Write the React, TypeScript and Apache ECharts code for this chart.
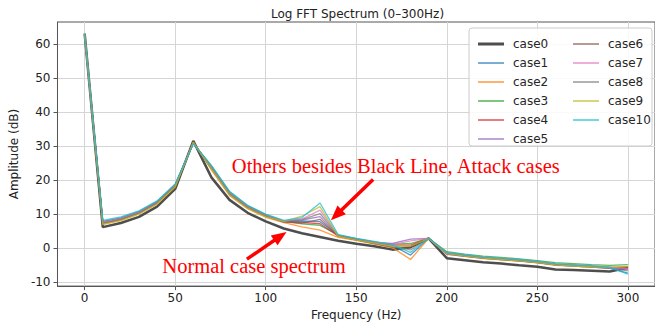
import React, { useEffect, useRef } from "react";
import * as echarts from "echarts";

const freqs = [0, 10, 20, 30, 40, 50, 60, 70, 80, 90, 100, 110, 120, 130, 140, 150, 160, 170, 180, 190, 200, 210, 220, 230, 240, 250, 260, 270, 280, 290, 300];

const caseNames = ["case0", "case1", "case2", "case3", "case4", "case5", "case6", "case7", "case8", "case9", "case10"];

const case0 = [63.0, 6.2, 7.4, 9.2, 12.2, 17.4, 31.5, 20.8, 14.2, 10.4, 7.9, 5.8, 4.4, 3.3, 2.2, 1.3, 0.6, -0.4, 0.3, 2.9, -2.9, -3.5, -4.1, -4.5, -5.0, -5.4, -6.2, -6.4, -6.6, -6.8, -5.7];
const case1 = [62.8, 7.9, 8.9, 10.8, 13.7, 18.7, 30.9, 23.9, 16.3, 12.3, 9.7, 7.9, 8.0, 7.8, 3.8, 2.7, 1.8, 0.8, -2.0, 2.9, -1.5, -2.2, -2.8, -3.2, -3.6, -4.1, -4.8, -5.1, -5.4, -5.8, -7.3];
const case2 = [62.7, 7.0, 8.2, 10.1, 13.0, 18.1, 31.2, 23.0, 15.5, 11.6, 9.1, 7.5, 6.3, 5.3, 3.2, 2.3, 1.2, 0.2, -3.3, 2.9, -1.7, -2.4, -3.0, -3.4, -3.8, -4.3, -5.0, -5.2, -5.5, -5.8, -5.4];
const case3 = [62.8, 7.6, 8.7, 10.6, 13.6, 18.6, 30.8, 24.2, 16.6, 12.5, 9.9, 8.0, 7.2, 6.7, 3.9, 2.8, 1.9, 1.2, 1.4, 2.9, -1.0, -1.7, -2.3, -2.7, -3.1, -3.6, -4.2, -4.5, -4.8, -5.0, -4.8];
const case4 = [62.8, 7.6, 8.6, 10.5, 13.4, 18.4, 30.9, 23.6, 16.0, 12.0, 9.5, 7.8, 7.6, 7.2, 3.6, 2.5, 1.6, 0.9, 0.9, 2.9, -1.4, -2.1, -2.7, -3.1, -3.5, -4.0, -4.7, -5.0, -5.3, -5.6, -5.8];
const case5 = [62.8, 7.5, 8.6, 10.5, 13.5, 18.5, 30.8, 23.7, 16.1, 12.1, 9.6, 8.0, 8.3, 9.3, 3.7, 2.6, 1.7, 1.4, 2.7, 2.9, -1.8, -2.4, -2.9, -3.3, -3.7, -4.2, -4.9, -5.2, -5.5, -5.8, -6.2];
const case6 = [62.8, 7.3, 8.4, 10.3, 13.2, 18.3, 31.0, 23.4, 15.8, 11.9, 9.4, 7.7, 7.4, 8.5, 3.6, 2.5, 1.4, 0.3, 0.4, 2.9, -1.5, -2.2, -2.8, -3.2, -3.6, -4.1, -4.8, -5.1, -5.4, -5.6, -5.5];
const case7 = [62.8, 7.7, 8.7, 10.6, 13.5, 18.5, 30.8, 23.8, 16.2, 12.2, 9.7, 8.0, 8.6, 11.2, 3.8, 2.7, 1.8, 1.1, 2.2, 2.9, -1.3, -2.0, -2.6, -3.0, -3.4, -3.9, -4.6, -4.9, -5.2, -5.5, -6.0];
const case8 = [62.8, 7.4, 8.5, 10.4, 13.4, 18.4, 30.9, 23.6, 16.0, 12.0, 9.5, 7.8, 8.4, 10.2, 3.7, 2.6, 1.6, 0.7, -0.5, 2.9, -1.6, -2.3, -2.9, -3.3, -3.7, -4.2, -4.9, -5.2, -5.5, -5.9, -6.6];
const case9 = [62.7, 7.0, 8.1, 10.0, 13.0, 18.0, 31.1, 23.2, 15.6, 11.7, 9.2, 7.9, 9.4, 12.2, 3.5, 2.4, 1.5, 0.6, 0.6, 2.9, -1.6, -2.3, -2.9, -3.3, -3.7, -4.2, -4.9, -5.2, -5.5, -5.6, -5.3];
const case10 = [62.9, 8.2, 9.2, 11.0, 13.9, 18.9, 30.7, 24.3, 16.7, 12.6, 10.0, 8.2, 9.0, 13.3, 4.0, 2.9, 2.0, 1.0, -1.2, 2.9, -1.2, -1.9, -2.5, -2.9, -3.3, -3.8, -4.5, -4.8, -5.1, -5.6, -7.6];

const allCases = [case0, case1, case2, case3, case4, case5, case6, case7, case8, case9, case10];

const xTicks = [0, 50, 100, 150, 200, 250, 300];
const yTicks = [-10, 0, 10, 20, 30, 40, 50, 60];

const colors = ["#444444", "#1f77b4", "#ff7f0e", "#2ca02c", "#d62728", "#9467bd", "#8c564b", "#e377c2", "#7f7f7f", "#bcbd22", "#17becf"];

const titleText = "Log FFT Spectrum (0\u2013300Hz)";
const attackText = "Others besides Black Line, Attack cases";
const normalText = "Normal case spectrum";
// annotation anchors in data coordinates [Hz, dB]
const attackTextAt = [81.3, 24.1];
const normalTextAt = [42.9, -5.1];
const attackArrow = [[159.3, 20.2], [136.0, 8.2]];
const normalArrow = [[89.6, -3.2], [111.5, 4.8]];

const FONT = "DejaVu Sans";

export default function App() {
  const ref = useRef<HTMLDivElement>(null);
  useEffect(() => {
    document.body.style.margin = "0";
    const chart = echarts.init(ref.current!, null, { renderer: "svg" });
    const series: any[] = caseNames.map((name, i) => ({
      name,
      type: "line",
      data: freqs.map((f, j) => [f, allCases[i][j]]),
      symbol: "none",
      z: 2,
      lineStyle: {
        color: colors[i],
        width: i === 0 ? 2.5 : 1.3,
        opacity: i === 0 ? 0.95 : 0.75,
      },
      itemStyle: { color: colors[i] },
    }));
    const legendCommon = {
      orient: "vertical" as const,
      itemWidth: 26,
      icon: "rect",
      itemGap: 5,
      selectedMode: false,
      z: 20,
      textStyle: { fontFamily: FONT, fontSize: 12, color: "#262626", lineHeight: 14, padding: [0, 0, 0, 4] },
    };
    const legData = (names: string[]) =>
      names.map((n) => {
        const i = caseNames.indexOf(n);
        return { name: n, itemStyle: { color: colors[i], opacity: i === 0 ? 0.95 : 0.6 } };
      });
    chart.setOption({
      animation: false,
      grid: { left: 57, top: 22, width: 601, height: 268, show: true, borderColor: "#555", borderWidth: 1, containLabel: false },
      legend: [
        { ...legendCommon, left: 473, top: 32, itemHeight: 3, data: legData(["case0"]) },
        { ...legendCommon, left: 473, top: 51, itemHeight: 2, data: legData(["case1", "case2", "case3", "case4", "case5"]) },
        { ...legendCommon, left: 568, top: 32, itemHeight: 2, data: legData(["case6", "case7", "case8", "case9", "case10"]) },
      ],
      xAxis: {
        type: "value",
        min: -15,
        max: 315,
        name: "Frequency (Hz)",
        nameLocation: "middle",
        nameGap: 16,
        nameTextStyle: { fontFamily: FONT, fontSize: 12, color: "#222" },
        axisLine: { show: true, onZero: false, lineStyle: { color: "#555" } },
        axisTick: { show: true, length: 4, customValues: xTicks, lineStyle: { color: "#555" } },
        axisLabel: { customValues: xTicks, fontFamily: FONT, fontSize: 12, color: "#222", margin: 6 },
        splitLine: { show: true, lineStyle: { color: "#d5d5d5", width: 1 } },
      },
      yAxis: {
        type: "value",
        min: -11.1,
        max: 66.4,
        name: "Amplitude (dB)",
        nameLocation: "middle",
        nameGap: 36,
        nameTextStyle: { fontFamily: FONT, fontSize: 12, color: "#222" },
        axisLine: { show: true, onZero: false, lineStyle: { color: "#555" } },
        axisTick: { show: true, length: 4, customValues: yTicks, lineStyle: { color: "#555" } },
        axisLabel: { customValues: yTicks, fontFamily: FONT, fontSize: 12, color: "#222", margin: 7 },
        splitLine: { show: true, lineStyle: { color: "#d5d5d5", width: 1 } },
      },
      series,
    });
    const toPx = (p: number[]) => chart.convertToPixel({ gridIndex: 0 }, p) as number[];
    const pA = toPx(attackTextAt);
    const pN = toPx(normalTextAt);
    const arrowEls = (arrow: number[][]) => {
      const t = toPx(arrow[0]);
      const h = toPx(arrow[1]);
      const dx = h[0] - t[0];
      const dy = h[1] - t[1];
      const len = Math.sqrt(dx * dx + dy * dy);
      const ux = dx / len;
      const uy = dy / len;
      const nx = -uy;
      const ny = ux;
      const headLen = 15;
      const headHalf = 6;
      const bx = h[0] - ux * headLen;
      const by = h[1] - uy * headLen;
      return [
        {
          type: "line",
          z: 12,
          shape: { x1: t[0], y1: t[1], x2: bx + ux * 2, y2: by + uy * 2 },
          style: { stroke: "#ff0000", lineWidth: 3.5 },
        },
        {
          type: "polygon",
          z: 12,
          shape: { points: [[h[0], h[1]], [bx + nx * headHalf, by + ny * headHalf], [bx - nx * headHalf, by - ny * headHalf]] },
          style: { fill: "#ff0000" },
        },
      ];
    };
    chart.setOption({
      graphic: [
        {
          type: "text",
          x: 357.5,
          y: 14,
          style: { text: titleText, fontFamily: FONT, fontSize: 12, fill: "#222", align: "center", verticalAlign: "middle" },
        },
        {
          type: "rect",
          z: 15,
          shape: { x: 469, y: 28, width: 183, height: 118, r: 3 },
          style: { fill: "rgba(255,255,255,0.85)", stroke: "#cccccc", lineWidth: 1 },
        },
        {
          type: "text",
          x: pA[0],
          y: pA[1],
          z: 10,
          style: { text: attackText, fontFamily: "Liberation Serif", fontSize: 20.5, fill: "#ff0000", align: "left", verticalAlign: "middle" },
        },
        {
          type: "text",
          x: pN[0],
          y: pN[1],
          z: 10,
          style: { text: normalText, fontFamily: "Liberation Serif", fontSize: 20.5, fill: "#ff0000", align: "left", verticalAlign: "middle" },
        },
        ...arrowEls(attackArrow),
        ...arrowEls(normalArrow),
      ],
    });
    return () => chart.dispose();
  }, []);
  return <div ref={ref} style={{ width: 655, height: 326, position: "absolute", left: 0, top: 0 }} />;
}
